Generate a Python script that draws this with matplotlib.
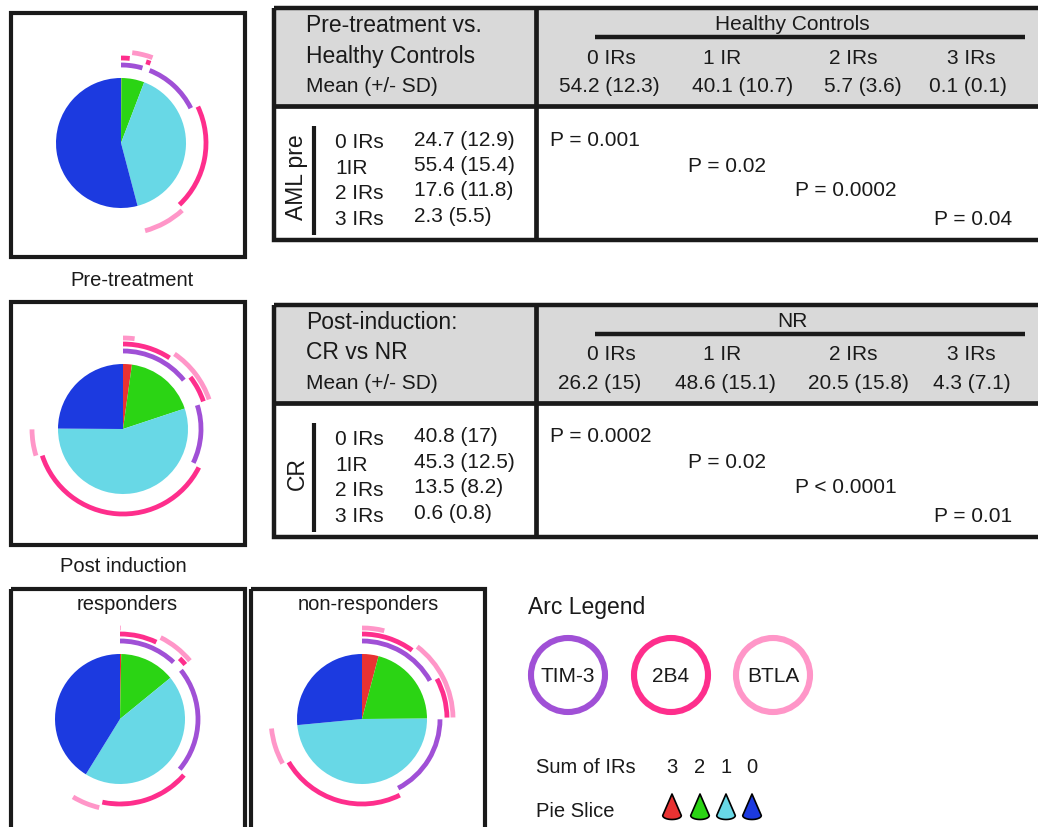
import numpy as np
import matplotlib.pyplot as plt
from matplotlib.patches import Wedge, Rectangle, Circle, Polygon

plt.rcParams['font.family'] = ['Liberation Sans', 'DejaVu Sans']

# marker combinations, in the order the pie is drawn (clockwise from 12 o'clock)
markers = ['TIM-3', '2B4', 'BTLA']
combos = [('TIM-3', '2B4', 'BTLA'), ('TIM-3', '2B4'), ('TIM-3', 'BTLA'), ('2B4', 'BTLA'),
          ('TIM-3',), ('2B4',), ('BTLA',), ()]

# percent of cells in each combination
pre_pct = [0.1, 1.7, 2.8, 1.2, 12.0, 20.3, 7.8, 54.1]
post_pct = [2.2, 7.2, 5.0, 5.5, 12.4, 37.8, 5.0, 24.9]
resp_pct = [0.3, 6.9, 5.0, 1.9, 22.2, 17.2, 5.3, 41.2]
nonresp_pct = [4.1, 6.1, 6.8, 7.9, 17.6, 24.2, 6.8, 26.5]

# table contents
col_labels = ['0 IRs', '1 IR', '2 IRs', '3 IRs']
row_labels = ['0 IRs', '1IR', '2 IRs', '3 IRs']
hc_means = ['54.2 (12.3)', '40.1 (10.7)', '5.7 (3.6)', '0.1 (0.1)']
aml_pre_means = ['24.7 (12.9)', '55.4 (15.4)', '17.6 (11.8)', '2.3 (5.5)']
pre_pvals = ['P = 0.001', 'P = 0.02', 'P = 0.0002', 'P = 0.04']
nr_means = ['26.2 (15)', '48.6 (15.1)', '20.5 (15.8)', '4.3 (7.1)']
cr_means = ['40.8 (17)', '45.3 (12.5)', '13.5 (8.2)', '0.6 (0.8)']
post_pvals = ['P = 0.0002', 'P = 0.02', 'P < 0.0001', 'P = 0.01']

slice_colors = {3: '#e83232', 2: '#2bd414', 1: '#68d8e6', 0: '#1c3ae0'}
arc_colors = {'TIM-3': '#a050d6', '2B4': '#fe2e8c', 'BTLA': '#ff96c8'}
INK = '#1a1a1a'

PIE_R = 65
ARC_R = {'TIM-3': 78, '2B4': 85, 'BTLA': 91}
ARC_W = 4.8
GAP = 0.6

fig = plt.figure(figsize=(10.38, 8.28), dpi=100)
ax = fig.add_axes([0, 0, 1, 1])
ax.set_xlim(0, 1038)
ax.set_ylim(828, 0)
ax.axis('off')


def runs(flags):
    """start/end index pairs of consecutive True runs"""
    out, i = [], 0
    while i < len(flags):
        if flags[i]:
            j = i
            while j + 1 < len(flags) and flags[j + 1]:
                j += 1
            out.append((i, j + 1))
            i = j + 1
        else:
            i += 1
    return out


def draw_spice(cx, cy, pct):
    pct = np.asarray(pct, float)
    edges = np.concatenate([[0], np.cumsum(pct)]) / pct.sum() * 360
    counts = [len(c) for c in combos]
    for n in (3, 2, 1, 0):
        for i, j in runs([c == n for c in counts]):
            ax.add_patch(Wedge((cx, cy), PIE_R, edges[i] - 90, edges[j] - 90,
                               color=slice_colors[n], lw=0))
    for m in markers:
        for i, j in runs([m in c for c in combos]):
            a0 = edges[i] + (GAP if i > 0 else 0)
            a1 = edges[j] - GAP
            if a1 - a0 > 0.3:
                ax.add_patch(Wedge((cx, cy), ARC_R[m] + ARC_W / 2, a0 - 90, a1 - 90,
                                   width=ARC_W, color=arc_colors[m], lw=0))


def box(x0, y0, x1, y1):
    ax.add_patch(Rectangle((x0, y0), x1 - x0, y1 - y0, fill=False, ec=INK, lw=3.0))


# pie panels
box(10.5, 14, 245, 258)
box(10.5, 303, 245, 546)
box(10.5, 590, 245, 850)
box(251, 590, 485, 850)

draw_spice(121, 144, pre_pct)
draw_spice(123, 430, post_pct)
draw_spice(120, 720, resp_pct)
draw_spice(362, 720, nonresp_pct)

ax.text(132, 281, 'Pre-treatment', fontsize=14.5, ha='center', va='center', color=INK)
ax.text(123, 567, 'Post induction', fontsize=14.5, ha='center', va='center', color=INK)
ax.text(127.5, 605, 'responders', fontsize=14.5, ha='center', va='center', color=INK)
ax.text(368, 605, 'non-responders', fontsize=14.5, ha='center', va='center', color=INK)


def draw_table(top, title_lines, group, col_means, val_x, side, row_means, pvals):
    left, mid, right = 274, 536, 1045
    sep, bottom = top + 98, top + 232
    ax.add_patch(Rectangle((left, top), right - left, sep - top, fc='#d9d9d9', ec='none'))
    ax.plot([left, right], [sep, sep], color=INK, lw=3.4, solid_capstyle='butt')
    ax.plot([mid, mid], [top, bottom], color=INK, lw=3.4, solid_capstyle='butt')
    ax.add_patch(Rectangle((left, top), right - left, bottom - top, fill=False, ec=INK, lw=3.2))

    ax.text(306, top + 17, title_lines[0], fontsize=16.5, va='center', color=INK)
    ax.text(306, top + 47, title_lines[1], fontsize=16.5, va='center', color=INK)
    ax.text(306, top + 78, 'Mean (+/- SD)', fontsize=15, va='center', color=INK)

    ax.text(792, top + 16, group, fontsize=15, ha='center', va='center', color=INK)
    ax.plot([595, 1025], [top + 29, top + 29], color=INK, lw=3.2, solid_capstyle='butt')
    for x, lab in zip([611, 722, 853, 971], col_labels):
        ax.text(x, top + 49, lab, fontsize=15, ha='center', va='center', color=INK)
    for x, val in zip(val_x, col_means):
        ax.text(x, top + 78, val, fontsize=15, ha='center', va='center', color=INK)

    ax.text(297, top + 168, side, fontsize=16.5, rotation=90, ha='center', va='center', color=INK)
    ax.plot([314, 314], [top + 118, top + 227], color=INK, lw=3.0, solid_capstyle='butt')
    for k, (lab, val) in enumerate(zip(row_labels, row_means)):
        y = top + 134 + 25.5 * k
        ax.text(335, y, lab, fontsize=15, va='center', color=INK)
        ax.text(414, y - 3, val, fontsize=15, va='center', color=INK)
    for x, y, p in zip([550, 688, 795, 934], [131, 157, 182, 211], pvals):
        ax.text(x, top + y, p, fontsize=15, va='center', color=INK)


draw_table(9, ['Pre-treatment vs.', 'Healthy Controls'], 'Healthy Controls', hc_means,
           [609, 743, 863, 968], 'AML pre', aml_pre_means, pre_pvals)
draw_table(306, ['Post-induction:', 'CR vs NR'], 'NR', nr_means,
           [600, 725, 858, 972], 'CR', cr_means, post_pvals)

# arc legend
ax.text(528, 608, 'Arc Legend', fontsize=16.5, va='center', color=INK)
for x, m in zip([568, 671, 773], markers):
    ax.add_patch(Circle((x, 676), 37, fill=False, ec=arc_colors[m], lw=4.4))
    ax.text(x, 677, m, fontsize=15, ha='center', va='center', color=INK)

ax.text(536, 768, 'Sum of IRs', fontsize=14.5, va='center', color=INK)
ax.text(536, 812, 'Pie Slice', fontsize=14.5, va='center', color=INK)
for x, n in zip([672, 700, 726, 752], (3, 2, 1, 0)):
    ax.text(x, 768, str(n), fontsize=14.5, ha='center', va='center', color=INK)
    t = np.linspace(0, np.pi, 20)
    bottom_pts = np.column_stack([x + 9.3 * np.cos(t), 816.5 + 4 * np.sin(t)])
    pts = np.vstack([[x, 795], bottom_pts])
    ax.add_patch(Polygon(pts, closed=True, fc=slice_colors[n], ec='black', lw=1.2, joinstyle='round'))

fig.savefig('out.png', dpi=100)
